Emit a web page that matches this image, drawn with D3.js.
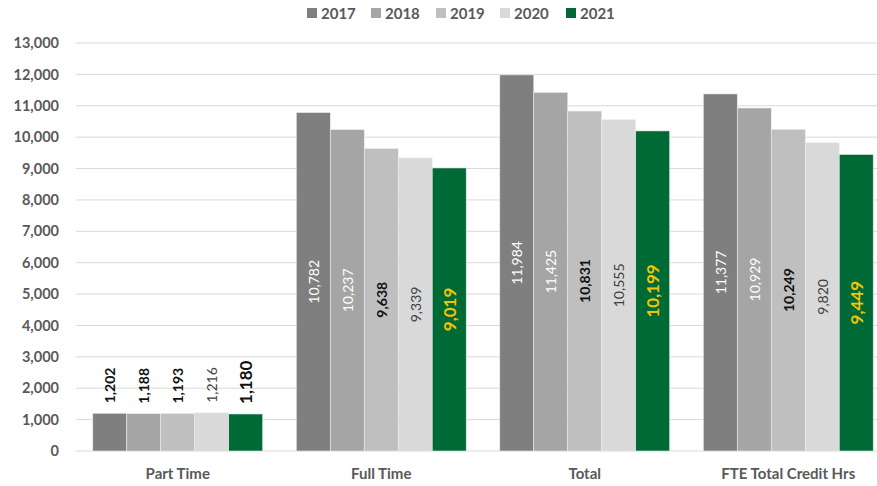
<!DOCTYPE html>
<html><head><meta charset="utf-8">
<script src="https://cdn.jsdelivr.net/npm/d3@7"></script>
<style>body{margin:0;background:#fff;} svg{display:block;font-family:Lato,"Open Sans",sans-serif;}</style>
</head><body>
<svg id="c" width="877" height="486"></svg>
<script>
const categories = ["Part Time", "Full Time", "Total", "FTE Total Credit Hrs"];
const years = ["2017", "2018", "2019", "2020", "2021"];
const v2017 = [1202, 10782, 11984, 11377];
const v2018 = [1188, 10237, 11425, 10929];
const v2019 = [1193, 9638, 10831, 10249];
const v2020 = [1216, 9339, 10555, 9820];
const v2021 = [1180, 9019, 10199, 9449];
const yTicks = [0,1000,2000,3000,4000,5000,6000,7000,8000,9000,10000,11000,12000,13000];
const colors = ["#7f7f7f", "#a5a5a5", "#bfbfbf", "#d9d9d9", "#006a36"];
const labelColors = ["#ffffff", "#ffffff", "#111111", "#404040", "#f2c500"];
const labelWeights = ["normal", "normal", "bold", "normal", "bold"];
const labelSizes = [14, 14, 14, 14, 17];
const outColors = ["#111111", "#111111", "#111111", "#404040", "#111111"];
const outWeights = ["bold", "bold", "bold", "normal", "bold"];

const series = [v2017, v2018, v2019, v2020, v2021];
const svg = d3.select("#c");
const mLeft = 76, mRight = 890, mTop = 43, mBottom = 451;

const y = d3.scaleLinear().domain([0, 13000]).range([mBottom, mTop]);
const x0 = d3.scaleBand().domain(categories).range([mLeft, mRight]).paddingInner(0.165).paddingOuter(0.0825);
const x1 = d3.scaleBand().domain(years).range([0, x0.bandwidth()]);

// gridlines
svg.append("g").selectAll("line").data(yTicks).join("line")
  .attr("x1", mLeft).attr("x2", mRight)
  .attr("y1", d => y(d)).attr("y2", d => y(d))
  .attr("stroke", "#d9d9d9").attr("stroke-width", 1);

// y axis labels
const yAxis = d3.axisLeft(y).tickValues(yTicks).tickFormat(d3.format(",")).tickSize(0).tickPadding(0);
const ga = svg.append("g").attr("transform", `translate(59,0)`).call(yAxis);
ga.select(".domain").remove();
ga.selectAll("text").attr("fill", "#595959").attr("font-size", 14.5).attr("font-weight", "bold")
  .attr("font-family", "Lato, sans-serif");

// bars
const groups = svg.append("g").selectAll("g").data(categories).join("g")
  .attr("transform", d => `translate(${x0(d)},0)`);
groups.each(function(cat, ci) {
  const g = d3.select(this);
  years.forEach((yr, si) => {
    const val = series[si][ci];
    g.append("rect")
      .attr("x", x1(yr)).attr("width", x1.bandwidth())
      .attr("y", y(val)).attr("height", y(0) - y(val))
      .attr("fill", colors[si]).attr("stroke", "#ececec").attr("stroke-width", 0.6);
    const cx = x1(yr) + x1.bandwidth() / 2;
    const inside = (y(0) - y(val)) > 100;
    const t = g.append("text")
      .text(d3.format(",")(val))
      .attr("font-size", labelSizes[si])
      .attr("dominant-baseline", "central");
    if (inside) {
      const cy = (y(val) + y(0)) / 2;
      t.attr("transform", `translate(${cx},${cy}) rotate(-90)`)
        .attr("text-anchor", "middle")
        .attr("fill", labelColors[si]).attr("font-weight", labelWeights[si]);
    } else {
      t.attr("transform", `translate(${cx},${y(val) - 10}) rotate(-90)`)
        .attr("text-anchor", "start")
        .attr("fill", outColors[si]).attr("font-weight", outWeights[si]);
    }
  });
});

// category labels
svg.append("g").selectAll("text").data(categories).join("text")
  .attr("x", d => x0(d) + x0.bandwidth() / 2).attr("y", 473)
  .attr("text-anchor", "middle").attr("dominant-baseline", "central")
  .attr("fill", "#595959").attr("font-size", 15).attr("font-weight", "bold")
  .text(d => d);

// legend
const legX = [307, 371, 436, 500, 566];
const lg = svg.append("g").selectAll("g").data(years).join("g")
  .attr("transform", (d, i) => `translate(${legX[i]},13)`);
lg.append("rect").attr("x", 0).attr("y", -5).attr("width", 10).attr("height", 10)
  .attr("fill", (d, i) => colors[i]);
lg.append("text").attr("x", 14).attr("y", 0).attr("dominant-baseline", "central")
  .attr("fill", "#595959").attr("font-size", 15).attr("font-weight", "bold").text(d => d);
</script>
</body></html>
